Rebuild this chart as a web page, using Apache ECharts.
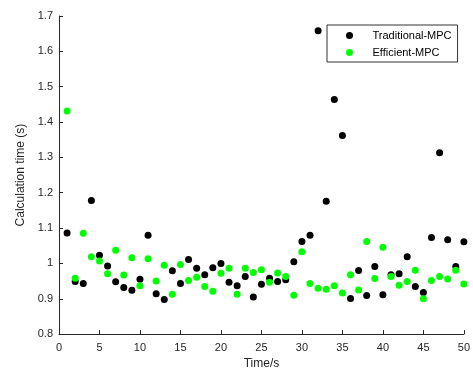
<!DOCTYPE html>
<html>
<head>
<meta charset="utf-8">
<script src="https://cdn.jsdelivr.net/npm/echarts@6/dist/echarts.min.js"></script>
<style>html,body{margin:0;padding:0;background:#fff}#c{width:473px;height:375px}</style>
</head>
<body>
<div id="c"></div>
<script>
const timeSteps = [1,2,3,4,5,6,7,8,9,10,11,12,13,14,15,16,17,18,19,20,21,22,23,24,25,26,27,28,29,30,31,32,33,34,35,36,37,38,39,40,41,42,43,44,45,46,47,48,49,50];
const traditionalMPC = [1.086,0.949,0.943,1.178,1.023,0.993,0.948,0.932,0.924,0.955,1.080,0.914,0.898,0.979,0.943,1.011,0.986,0.968,0.988,1.000,0.947,0.937,0.963,0.905,0.941,0.958,0.949,0.954,1.005,1.062,1.080,1.658,1.176,1.464,1.362,0.901,0.980,0.909,0.991,0.911,0.968,0.971,1.019,0.935,0.918,1.073,1.313,1.067,0.991,1.061];
const efficientMPC = [1.431,0.958,1.085,1.019,1.007,0.971,1.037,0.967,1.016,0.937,1.013,0.950,0.995,0.913,0.997,0.952,0.961,0.935,0.921,0.972,0.986,0.913,0.986,0.974,0.982,0.947,0.973,0.963,0.910,1.033,0.943,0.930,0.927,0.937,0.916,0.968,0.925,1.062,0.957,1.046,0.963,0.938,0.949,0.981,0.900,0.952,0.963,0.956,0.981,0.942];
const seriesNames = ['Traditional-MPC','Efficient-MPC'];

const font = 'Liberation Sans, Arial, sans-serif';
const axisCol = '#262626';
const chart = echarts.init(document.getElementById('c'));
chart.setOption({
  animation: false,
  grid: {left: 59, right: 6, top: 16, bottom: 38},
  legend: {
    orient: 'vertical', left: 327, top: 25,
    data: seriesNames, icon: 'circle',
    itemWidth: 36, itemHeight: 7, itemGap: 4,
    padding: [4, 6, 3, 19],
    borderColor: '#333', borderWidth: 1, backgroundColor: '#fff',
    textStyle: {fontFamily: font, fontSize: 11, color: '#000', lineHeight: 13}
  },
  xAxis: {
    type: 'value', min: 0, max: 50, interval: 5,
    name: 'Time/s', nameLocation: 'middle', nameGap: 20,
    nameTextStyle: {fontFamily: font, fontSize: 12, color: axisCol},
    axisLine: {lineStyle: {color: axisCol}},
    axisTick: {inside: true, length: 4, lineStyle: {color: axisCol}},
    axisLabel: {fontFamily: font, fontSize: 11, color: axisCol, margin: 8},
    splitLine: {show: false}
  },
  yAxis: {
    type: 'value', min: 0.8, max: 1.7, interval: 0.1,
    name: 'Calculation time (s)', nameLocation: 'middle', nameGap: 28,
    nameTextStyle: {fontFamily: font, fontSize: 12, color: axisCol},
    axisLine: {show: true, lineStyle: {color: axisCol}},
    axisTick: {show: true, inside: true, length: 4, lineStyle: {color: axisCol}},
    axisLabel: {fontFamily: font, fontSize: 11, color: axisCol, margin: 6,
      formatter: v => String(+v.toFixed(1))},
    splitLine: {show: false}
  },
  series: [
    {name: seriesNames[0], type: 'scatter', symbol: 'circle', symbolSize: 7,
     itemStyle: {color: '#000000', opacity: 1},
     data: timeSteps.map((t, i) => [t, traditionalMPC[i]])},
    {name: seriesNames[1], type: 'scatter', symbol: 'circle', symbolSize: 7,
     itemStyle: {color: '#00ff00', opacity: 1},
     data: timeSteps.map((t, i) => [t, efficientMPC[i]])}
  ]
});
</script>
</body>
</html>
